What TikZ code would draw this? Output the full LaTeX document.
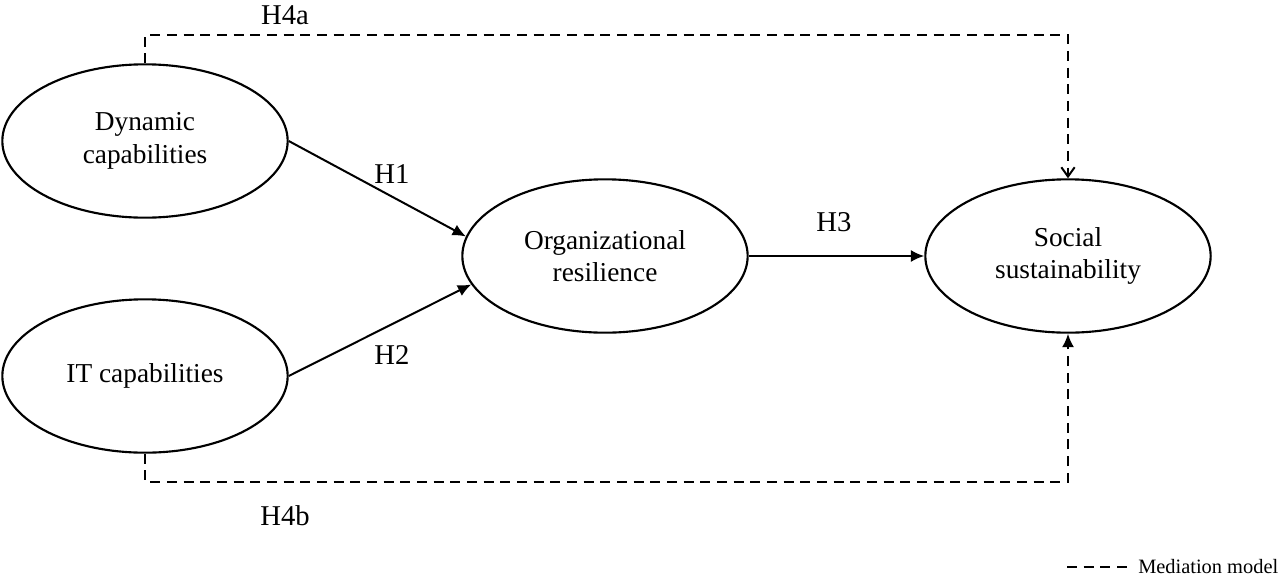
\documentclass[tikz,border=0pt]{standalone}
\usepackage{fontspec}
\setmainfont{Liberation Serif}
\usetikzlibrary{shapes.geometric,arrows.meta}

\tikzset{
  construct/.style={draw, ellipse, line width=1.6pt, minimum width=214pt, minimum height=115pt, align=center, font=\fontsize{20.5}{24.5}\selectfont},
  hlabel/.style={font=\fontsize{21.5}{25}\selectfont, inner sep=0.75pt},
  path arrow/.style={line width=1.5pt, -{Latex[length=10pt,width=9pt]}},
  mediation/.style={line width=1.5pt, dash pattern=on 7.5pt off 5pt},
}

\begin{document}
\begin{tikzpicture}[x=0.75pt,y=0.75pt,yscale=-1,xscale=1]
\useasboundingbox (0,0) rectangle (1281,579);

% Constructs
\node [construct] (dyn) at (145,141) {Dynamic\\capabilities};
\node [construct] (itc) at (145,376) {IT capabilities};
\node [construct] (orgres) at (605,256) {Organizational\\resilience};
\node [construct] (socsus) at (1068,256) {Social\\sustainability};

% Direct paths
\draw [path arrow] (dyn.east) -- (orgres.172);
\draw [path arrow] (itc.east) -- (orgres.192);
\draw [path arrow] (orgres.east) -- (socsus.west);

% Mediation paths
\draw [mediation, -{Straight Barb[length=7pt,width=10pt]}] (dyn.north) -- ++(0,-28) -| (socsus.north);
\draw [mediation, -{Latex[length=10pt,width=9pt]}] (itc.south) -- ++(0,28) -| (socsus.south);

% Path labels
\node [hlabel] (h4a) at (285,15) {H4a};
\node [hlabel] (h1) at (392,174) {H1};
\node [hlabel] (h2) at (392,355) {H2};
\node [hlabel] (h3) at (834,222) {H3};
\node [hlabel] (h4b) at (285,516) {H4b};

% Legend
\coordinate (legstart) at (1067,567);
\coordinate (legend) at (1129,567);
\draw [mediation] (legstart) -- (legend);
\node [anchor=west, inner sep=0pt, font=\fontsize{15.3}{17}\selectfont] (legtext) at (1138,567) {Mediation model};

\end{tikzpicture}
\end{document}
